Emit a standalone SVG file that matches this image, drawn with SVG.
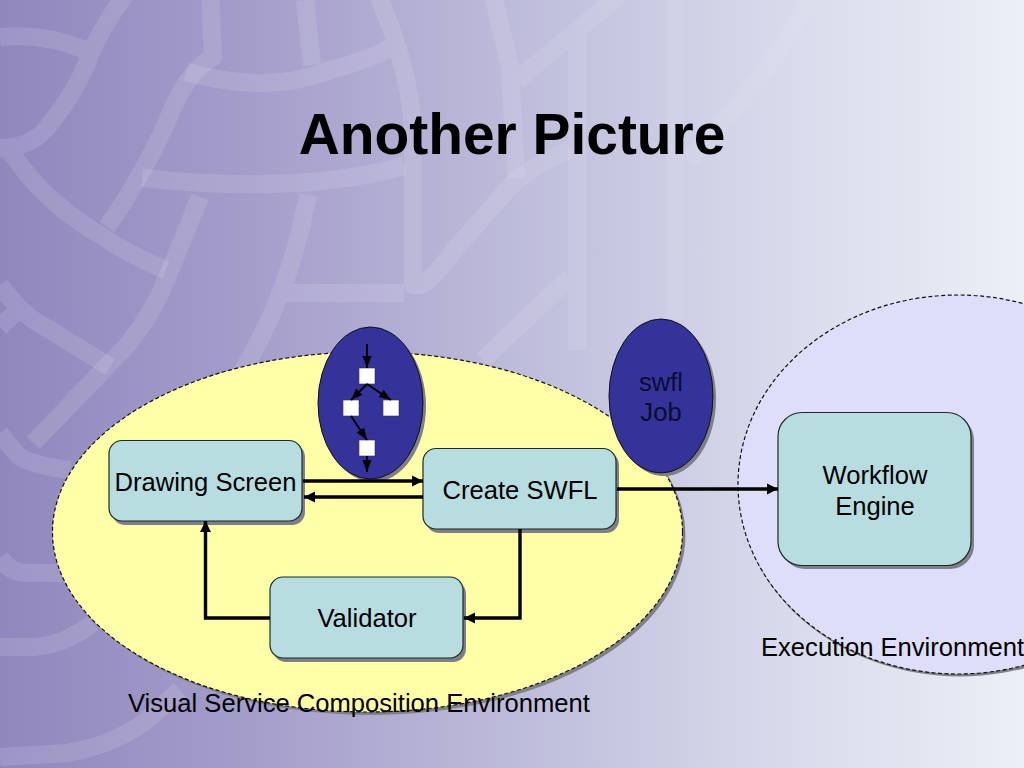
<svg xmlns="http://www.w3.org/2000/svg" width="1024" height="768" viewBox="0 0 1024 768">
<defs>
<linearGradient id="bg" x1="0" y1="0" x2="1" y2="0"><stop offset="0" stop-color="#9087bd"/><stop offset="0.25" stop-color="#a59ecb"/><stop offset="0.5" stop-color="#bdbbda"/><stop offset="0.75" stop-color="#d6d9ea"/><stop offset="1" stop-color="#ebeff6"/></linearGradient>
<linearGradient id="band" gradientUnits="userSpaceOnUse" x1="0" y1="0" x2="820" y2="0"><stop offset="0" stop-color="#fff" stop-opacity="0.12"/><stop offset="0.5" stop-color="#fff" stop-opacity="0.11"/><stop offset="0.85" stop-color="#fff" stop-opacity="0.07"/><stop offset="1" stop-color="#fff" stop-opacity="0.05"/></linearGradient>
<marker id="big" markerUnits="userSpaceOnUse" markerWidth="12" markerHeight="12" refX="11" refY="6" orient="auto"><path d="M0,0.5L11,6L0,11.500z" fill="#000"/></marker>
<marker id="small" markerUnits="userSpaceOnUse" markerWidth="13" markerHeight="10" refX="12" refY="5" orient="auto"><path d="M0,0.500L12,5L0,9.500z" fill="#000"/></marker>
</defs>
<style>
text{font-family:"Liberation Sans",Arial,sans-serif;font-size:25.6px;fill:#000}
.c{text-anchor:middle}
.box{fill:#b8dde1;stroke:#1c2b2c;stroke-width:1.2}
.sh{fill:#7f7f86}
.env{stroke:#111;stroke-width:1.2;stroke-dasharray:4 2.5}
.blue{fill:#333399;stroke:#111;stroke-width:1}
.sq{fill:#fff;stroke:#333;stroke-width:.6}
.thick{fill:none;stroke:#000;stroke-width:3.4}
.thin{fill:none;stroke:#000;stroke-width:1.900}
</style>
<rect width="1024" height="768" fill="url(#bg)"/>
<g id="pattern" fill="none" stroke="url(#band)" stroke-width="18" stroke-linejoin="round" stroke-linecap="butt">
<path d="M0,37Q45,33 85,50M125,-5Q100,30 90,55Q75,95 45,130Q30,147 0,148M0,148Q10,148 20,165Q50,205 100,235Q135,258 166,270M210,-5L213,57Q190,70 173,107Q150,165 107,227"/>
<path d="M186,72Q270,95 330,70Q365,62 395,45M305,0L312,65M378,-5Q410,70 413,130L413,285Q425,290 450,255L507,190Q530,165 570,150"/>
<path d="M142,178Q300,195 404,166M200,197L173,263Q150,325 113,360L33,443M308,195Q290,290 247,363L225,400M283,293L404,293"/>
<path d="M0,285Q15,305 25,313Q35,322 45,327L110,367M0,327L17,311M0,433Q15,453 20,457Q35,466 70,470M0,557Q10,573 25,573L70,573M0,647L33,647Q65,645 93,623M0,757L67,753Q115,745 147,720L180,690"/>
<path d="M493,-5L510,67L516,178M620,-5L517,80M577,28L577,350M675,0L675,320M483,360L570,277M812,0Q760,85 689,160"/>
</g>
<g id="visual-env">
<ellipse class="sh" cx="370.500" cy="535" rx="315" ry="180"/>
<ellipse class="env" cx="367.500" cy="532" rx="315" ry="180" fill="#ffffa8"/>
</g>
<g id="exec-env">
<ellipse class="sh" cx="960" cy="487" rx="221" ry="189.500"/>
<ellipse class="env" cx="958" cy="484.500" rx="220" ry="189.500" fill="#dedefb"/>
</g>
<g id="graph-bubble">
<ellipse class="sh" cx="373.500" cy="406" rx="52.500" ry="76"/>
<ellipse class="blue" cx="370.500" cy="403" rx="52.500" ry="76"/>
<rect class="sq" x="359" y="368" width="16" height="16"/>
<rect class="sq" x="343" y="400" width="16" height="16"/>
<rect class="sq" x="383" y="400" width="16" height="16"/>
<rect class="sq" x="359" y="440" width="16" height="16"/>
</g>
<g id="swfl-job">
<ellipse class="sh" cx="664" cy="399" rx="52" ry="77"/>
<ellipse class="blue" cx="661" cy="396" rx="52" ry="77"/>
<text class="c" x="661" y="391" style="fill:#0c0c33">swfl</text>
<text class="c" x="661" y="421" style="fill:#0c0c33">Job</text>
</g>
<g id="drawing-screen">
<rect class="sh" x="112" y="444" width="193" height="81" rx="13"/>
<rect class="box" x="109" y="440.500" width="193" height="80.500" rx="13"/>
<text class="c" x="205.500" y="491">Drawing Screen</text>
</g>
<g id="create-swfl">
<rect class="sh" x="426" y="452" width="193" height="81" rx="13"/>
<rect class="box" x="423" y="448.500" width="193" height="80.500" rx="13"/>
<text class="c" x="520" y="499">Create SWFL</text>
</g>
<g id="validator">
<rect class="sh" x="273" y="581" width="193" height="81" rx="13"/>
<rect class="box" x="270" y="577" width="193" height="81" rx="13"/>
<text class="c" x="367" y="627">Validator</text>
</g>
<g id="workflow-engine">
<rect class="sh" x="781" y="416" width="193" height="153" rx="24"/>
<rect class="box" x="778" y="412.500" width="193" height="153" rx="24"/>
<text class="c" x="875" y="484">Workflow</text>
<text class="c" x="875" y="515">Engine</text>
</g>
<g id="connectors">
<path class="thick" marker-end="url(#big)" d="M303,481L423,481"/>
<path class="thick" marker-end="url(#big)" d="M423,497L304,497"/>
<path class="thick" marker-end="url(#big)" d="M270,618L205.500,618L205.500,521"/>
<path class="thick" marker-end="url(#big)" d="M520,529L520,618L464,618"/>
<path class="thick" marker-end="url(#big)" d="M617,489L778,489"/>
<path class="thin" marker-end="url(#small)" d="M367,344L367,368"/>
<path class="thin" marker-end="url(#small)" d="M367,384L351,400"/>
<path class="thin" marker-end="url(#small)" d="M367,384L391,400"/>
<path class="thin" marker-end="url(#small)" d="M351,416L367,440"/>
<path class="thin" marker-end="url(#small)" d="M367,456L367,472"/>
</g>
<g id="labels">
<text class="c" x="512" y="154" style="font-size:56.900px;font-weight:bold">Another Picture</text>
<text x="128" y="712">Visual Service Composition Environment</text>
<text x="761" y="656">Execution Environment</text>
</g>
</svg>
